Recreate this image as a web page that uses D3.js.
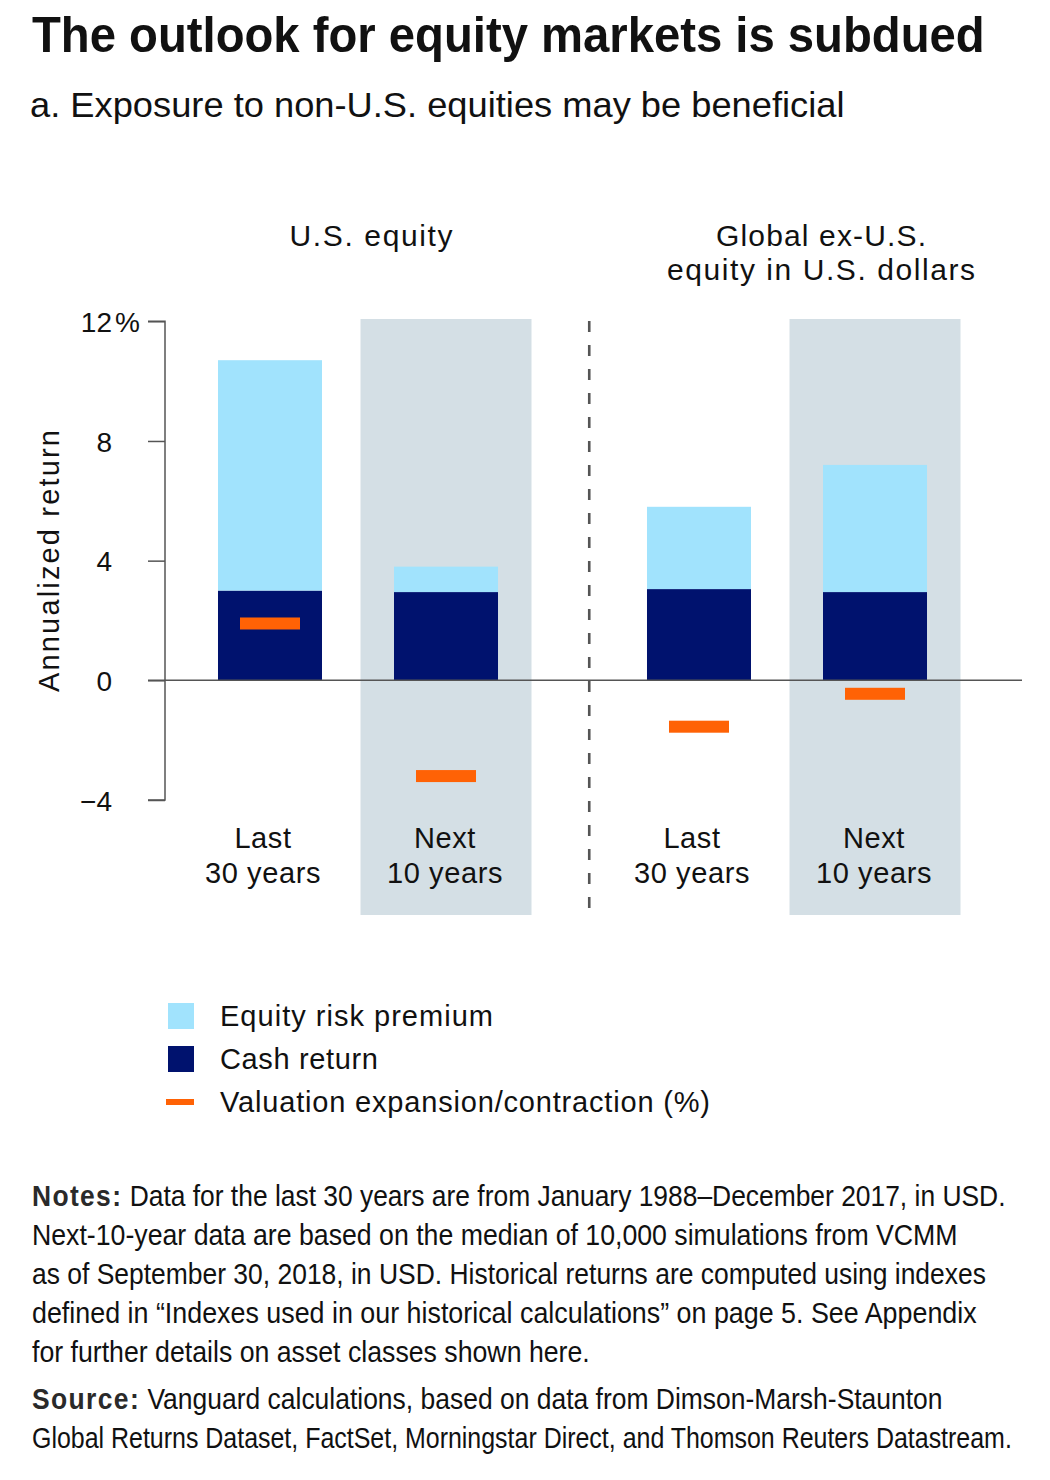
<!DOCTYPE html>
<html>
<head>
<meta charset="utf-8">
<script src="https://cdn.jsdelivr.net/npm/d3@7"></script>
<style>
  html, body { margin: 0; padding: 0; background: #fff; }
  svg { display: block; }
  text { font-family: "Liberation Sans", Arial, sans-serif; fill: #111; }
</style>
</head>
<body>
<svg id="chart" width="1050" height="1480"></svg>
<script>
// ---------------- DATA ----------------
const groupKeys = ["US", "Global"];
const groupLabels = [["U.S. equity"], ["Global ex-U.S.", "equity in U.S. dollars"]];
const periodKeys = ["Last", "Next"];
const periodLabels = [["Last", "30 years"], ["Next", "10 years"]];
const categoryGroup = ["US", "US", "Global", "Global"];
const categoryPeriod = ["Last", "Next", "Last", "Next"];
const cashReturn = [3.0, 2.95, 3.05, 2.95];
const equityRiskPremium = [7.7, 0.85, 2.75, 4.25];
const valuationChange = [1.9, -3.2, -1.55, -0.45];
const yTicks = [-4, 0, 4, 8, 12];
const legendLabels = ["Equity risk premium", "Cash return", "Valuation expansion/contraction (%)"];
const titleText = "The outlook for equity markets is subdued";
const subtitleText = "a. Exposure to non-U.S. equities may be beneficial";
const notesLines = [
  ["Notes:", " Data for the last 30 years are from January 1988\u2013December 2017, in USD."],
  ["", "Next-10-year data are based on the median of 10,000 simulations from VCMM"],
  ["", "as of September 30, 2018, in USD. Historical returns are computed using indexes"],
  ["", "defined in \u201CIndexes used in our historical calculations\u201D on page 5. See Appendix"],
  ["", "for further details on asset classes shown here."]
];
const sourceLines = [
  ["Source:", " Vanguard calculations, based on data from Dimson-Marsh-Staunton"],
  ["", "Global Returns Dataset, FactSet, Morningstar Direct, and Thomson Reuters Datastream."]
];

// ---------------- COLOURS ----------------
const C_ERP = "#a1e3fd";
const C_CASH = "#00126e";
const C_VAL = "#ff6205";
const C_SHADE = "#d4dfe5";
const C_AXIS = "#555";

const svg = d3.select("#chart");

// scale a text horizontally to a target width (keeps bbox honest)
function fitText(sel, x, yy, w) {
  const nat = sel.node().getComputedTextLength();
  const k = w / nat;
  sel.attr("x", 0).attr("y", 0)
    .attr("transform", `translate(${x},${yy}) scale(${k},1)`);
  return sel;
}

// ---------------- TITLES ----------------
fitText(svg.append("text")
  .attr("font-size", 50).attr("font-weight", "bold")
  .text(titleText), 32, 52, 953);
fitText(svg.append("text")
  .attr("font-size", 36)
  .text(subtitleText), 30, 117, 815);

// ---------------- SCALES ----------------
const y = d3.scaleLinear().domain([-4, 12]).range([800, 321.3]);
const xGroup = d3.scaleBand().domain(groupKeys).range([170, 1028]).padding(0);
const xInner = d3.scaleBand().domain(periodKeys).range([12, 364])
  .paddingInner(72 / 176).paddingOuter(0.2045);
const bw = xInner.bandwidth();
const xBar = i => xGroup(categoryGroup[i]) + xInner(categoryPeriod[i]);
const xCenter = i => xBar(i) + bw / 2;

const idx = d3.range(cashReturn.length);

// ---------------- SHADED "NEXT" BACKGROUNDS ----------------
const shadeHalf = 85.5;
svg.append("g").selectAll("rect")
  .data(idx.filter(i => categoryPeriod[i] === "Next"))
  .join("rect")
  .attr("x", i => xCenter(i) - shadeHalf)
  .attr("width", shadeHalf * 2)
  .attr("y", 319)
  .attr("height", 915 - 319)
  .attr("fill", C_SHADE);

// ---------------- DIVIDER ----------------
const divX = ((xCenter(1) + shadeHalf) + xBar(2)) / 2;
svg.append("line")
  .attr("x1", divX).attr("x2", divX)
  .attr("y1", 321).attr("y2", 913)
  .attr("stroke", C_AXIS).attr("stroke-width", 2.6)
  .attr("stroke-dasharray", "11,13");

// ---------------- BARS ----------------
svg.append("g").selectAll("rect")
  .data(idx).join("rect")
  .attr("x", i => xBar(i)).attr("width", bw)
  .attr("y", i => y(cashReturn[i]))
  .attr("height", i => y(0) - y(cashReturn[i]))
  .attr("fill", C_CASH);
svg.append("g").selectAll("rect")
  .data(idx).join("rect")
  .attr("x", i => xBar(i)).attr("width", bw)
  .attr("y", i => y(cashReturn[i] + equityRiskPremium[i]))
  .attr("height", i => y(cashReturn[i]) - y(cashReturn[i] + equityRiskPremium[i]))
  .attr("fill", C_ERP);

// ---------------- AXIS ----------------
const axis = d3.axisLeft(y).tickValues(yTicks).tickSize(17).tickPadding(36)
  .tickFormat(d => d < 0 ? "\u2212" + Math.abs(d) : String(d));
const gAxis = svg.append("g").attr("transform", "translate(165,0)").call(axis);
gAxis.select(".domain").attr("stroke", C_AXIS).attr("stroke-width", 1.5)
  .attr("d", `M-17,${y(12)}H0V${y(-4)}H-17`);
gAxis.selectAll(".tick line").attr("stroke", C_AXIS).attr("stroke-width", 1.5);
gAxis.selectAll(".tick text")
  .attr("font-size", 28).attr("fill", "#111")
  .attr("font-family", "'Liberation Sans', Arial, sans-serif")
  .attr("dy", "0.36em");
gAxis.selectAll(".tick").filter(d => d === 12).select("text")
  .append("tspan").attr("x", -50).attr("text-anchor", "start").text("%");

// zero line
svg.append("line")
  .attr("x1", 148).attr("x2", 1022)
  .attr("y1", y(0)).attr("y2", y(0))
  .attr("stroke", C_AXIS).attr("stroke-width", 1.5);

// ---------------- VALUATION MARKERS ----------------
svg.append("g").selectAll("rect")
  .data(idx).join("rect")
  .attr("x", i => xCenter(i) - 30).attr("width", 60)
  .attr("y", i => y(valuationChange[i]) - 6).attr("height", 12)
  .attr("fill", C_VAL);

// ---------------- Y LABEL ----------------
svg.append("text")
  .attr("transform", `translate(59,${561}) rotate(-90)`)
  .attr("text-anchor", "middle")
  .attr("font-size", 29)
  .attr("textLength", 262).attr("lengthAdjust", "spacing")
  .text("Annualized return");

// ---------------- GROUP LABELS ----------------
const groupLabelWidths = [[163], [210, 308]];
const groupLabelOffset = [13, 34];
groupKeys.forEach((g, gi) => {
  const cx = (xCenter(gi * 2) + xCenter(gi * 2 + 1)) / 2 + groupLabelOffset[gi];
  groupLabels[gi].forEach((line, li) => {
    svg.append("text")
      .attr("x", cx).attr("y", 246 + li * 34)
      .attr("text-anchor", "middle").attr("font-size", 30)
      .attr("textLength", groupLabelWidths[gi][li]).attr("lengthAdjust", "spacing")
      .text(line);
  });
});

// ---------------- CATEGORY LABELS ----------------
idx.forEach(i => {
  const pl = periodLabels[periodKeys.indexOf(categoryPeriod[i])];
  pl.forEach((line, li) => {
    svg.append("text")
      .attr("x", xCenter(i) - (categoryPeriod[i] === "Last" ? 7 : 1))
      .attr("y", 848 + li * 35)
      .attr("text-anchor", "middle").attr("font-size", 29)
      .attr("letter-spacing", 0.6)
      .text(line);
  });
});

// ---------------- LEGEND ----------------
const lg = svg.append("g");
const legendY = [1016, 1059, 1102];
const legendW = [273, 158, 490];
lg.append("rect").attr("x", 168).attr("y", legendY[0] - 13).attr("width", 26).attr("height", 26).attr("fill", C_ERP);
lg.append("rect").attr("x", 168).attr("y", legendY[1] - 13).attr("width", 26).attr("height", 26).attr("fill", C_CASH);
lg.append("rect").attr("x", 166).attr("y", legendY[2] - 3).attr("width", 28).attr("height", 6).attr("fill", C_VAL);
legendLabels.forEach((t, i) => {
  lg.append("text").attr("x", 220).attr("y", legendY[i] + 10)
    .attr("font-size", 29)
    .attr("textLength", legendW[i]).attr("lengthAdjust", "spacing")
    .text(t);
});

// ---------------- NOTES ----------------
const noteW = [974, 926, 954, 945, 558];
const noteBase = [1206, 1245, 1284, 1323, 1362];
const srcW = [911, 980];
const srcBase = [1409, 1448];
function noteLine(parts, yy, w) {
  const t = svg.append("text").attr("font-size", 29);
  if (parts[0]) t.append("tspan").attr("letter-spacing", 1.5).attr("font-weight", "bold").attr("fill", "#2a2a2a").text(parts[0]);
  t.append("tspan").text(parts[1]);
  fitText(t, 32, yy, w);
}
notesLines.forEach((p, i) => noteLine(p, noteBase[i], noteW[i]));
sourceLines.forEach((p, i) => noteLine(p, srcBase[i], srcW[i]));
</script>
</body>
</html>
